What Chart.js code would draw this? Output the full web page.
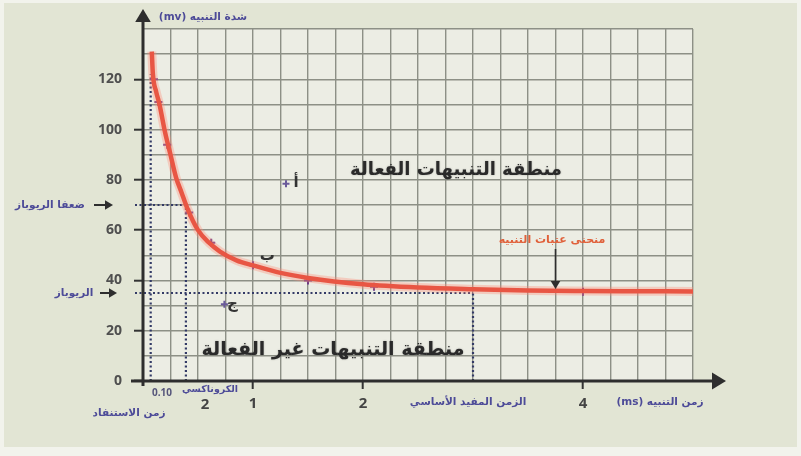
<!DOCTYPE html>
<html>
<head>
<meta charset="utf-8">
<script src="https://cdn.jsdelivr.net/npm/chart.js@4.4.0/dist/chart.umd.min.js"></script>
<style>
  html, body { margin: 0; padding: 0; background: #f2f3ec; }
  .wrap { position: relative; width: 801px; height: 456px; }
</style>
</head>
<body>
<div class="wrap"><canvas id="sd"></canvas></div>
<script>
// strength-duration curve, values
const curveTime = [0.08, 0.09, 0.12, 0.15, 0.2, 0.25, 0.3, 0.35, 0.4, 0.5, 0.6, 0.7, 0.85, 1.0, 1.25, 1.5, 2.0, 2.5, 3.0, 3.5, 4.0, 4.5, 5.0];
const curveIntensity = [131, 122, 115, 110, 99, 90, 81, 75, 69, 60, 55, 51.5, 48, 46, 43, 41, 38.5, 37.2, 36.5, 36, 35.8, 35.7, 35.6];

const measuredTime = [0.1, 0.14, 0.22, 0.42, 0.62, 1.0, 1.5, 2.1, 4.0];
const measuredIntensity = [120, 111, 94, 67, 55, 46, 40, 37.5, 35.5];

const extraTime = [1.3, 0.74];
const extraIntensity = [78.5, 30.5];

const xLabels = { 1: '1', 2: '2', 4: '4' };
const yLabelStep = 20;

const rheobase = 35;
const chronaxie = 0.39;
const utilTime = 3.0;

const AR = '"DejaVu Sans", sans-serif';
const NUM = '"Open Sans", "DejaVu Sans", sans-serif';
const PURPLE = '#4d4b98';
const DOT = '#333a66';

function pts(xs, ys) { return xs.map((x, i) => ({ x: x, y: ys[i] })); }

function txt(ctx, s, x, y, font, color, rtl) {
	ctx.save();
	ctx.font = font;
	ctx.fillStyle = color;
	ctx.textAlign = 'center';
	ctx.textBaseline = 'middle';
	ctx.direction = rtl ? 'rtl' : 'ltr';
	ctx.fillText(s, x, y);
	ctx.restore();
}

function arrowHead(ctx, x, y, dir, size) {
	// dir: 'up' | 'right' | 'down'
	ctx.beginPath();
	if (dir === 'up') { ctx.moveTo(x, y); ctx.lineTo(x - size * 0.6, y + size); ctx.lineTo(x + size * 0.6, y + size); }
	if (dir === 'right') { ctx.moveTo(x, y); ctx.lineTo(x - size, y - size * 0.6); ctx.lineTo(x - size, y + size * 0.6); }
	if (dir === 'down') { ctx.moveTo(x, y); ctx.lineTo(x - size * 0.6, y - size); ctx.lineTo(x + size * 0.6, y - size); }
	ctx.closePath();
	ctx.fill();
}

const backdrop = {
	id: 'backdrop',
	beforeDraw(chart) {
		const { ctx, chartArea: a } = chart;
		ctx.save();
		ctx.fillStyle = '#e2e5d4';
		ctx.fillRect(4, 3, 793, 444);
		ctx.fillStyle = '#ecede4';
		ctx.fillRect(a.left, a.top, a.right - a.left, a.bottom - a.top);
		ctx.restore();
	},
	beforeDatasetsDraw(chart) {
		const { ctx } = chart;
		const xs = chart.scales.x, ys = chart.scales.y;
		const X = v => xs.getPixelForValue(v), Y = v => ys.getPixelForValue(v);
		ctx.save();
		ctx.strokeStyle = DOT;
		ctx.lineWidth = 2.2;
		ctx.setLineDash([2, 2.5]);
		const seg = (x1, y1, x2, y2) => { ctx.beginPath(); ctx.moveTo(x1, y1); ctx.lineTo(x2, y2); ctx.stroke(); };
		seg(X(0.07), Y(0), X(0.07), Y(122));
		seg(X(chronaxie), Y(0), X(chronaxie), Y(2 * rheobase));
		seg(X(0) - 8, Y(2 * rheobase), X(chronaxie), Y(2 * rheobase));
		seg(X(0) - 8, Y(rheobase), X(utilTime), Y(rheobase));
		seg(X(utilTime), Y(0), X(utilTime), Y(rheobase));
		ctx.restore();
	},
	afterDraw(chart) {
		const { ctx, chartArea: a } = chart;
		const xs = chart.scales.x, ys = chart.scales.y;
		const X = v => xs.getPixelForValue(v), Y = v => ys.getPixelForValue(v);
		ctx.save();
		// axes with arrows
		ctx.strokeStyle = '#2e2e2e';
		ctx.fillStyle = '#2e2e2e';
		ctx.lineWidth = 3;
		ctx.beginPath(); ctx.moveTo(X(0), a.bottom + 5); ctx.lineTo(X(0), 20); ctx.stroke();
		arrowHead(ctx, X(0), 9, 'up', 13);
		ctx.beginPath(); ctx.moveTo(a.left - 12, Y(0)); ctx.lineTo(714, Y(0)); ctx.stroke();
		arrowHead(ctx, 726, Y(0), 'right', 14);

		// side arrows for rheobase marks
		ctx.lineWidth = 2;
		ctx.beginPath(); ctx.moveTo(94, Y(2 * rheobase)); ctx.lineTo(106, Y(2 * rheobase)); ctx.stroke();
		arrowHead(ctx, 113, Y(2 * rheobase), 'right', 8);
		ctx.beginPath(); ctx.moveTo(100, Y(rheobase)); ctx.lineTo(110, Y(rheobase)); ctx.stroke();
		arrowHead(ctx, 117, Y(rheobase), 'right', 8);

		// arrow pointing at the curve
		ctx.lineWidth = 1.6;
		ctx.beginPath(); ctx.moveTo(X(3.75), 249); ctx.lineTo(X(3.75), Y(38.5)); ctx.stroke();
		arrowHead(ctx, X(3.75), Y(36.6), 'down', 8);
		ctx.restore();

		// texts
		const b11 = 'bold 10.5px ' + AR;
		txt(ctx, 'شدة التنبيه (mv)', 203, 17, b11, PURPLE, true);
		txt(ctx, 'زمن التنبيه (ms)', 660, 402, b11, PURPLE, true);
		txt(ctx, 'ضعفا الريوباز', 50, Y(2 * rheobase), b11, PURPLE, true);
		txt(ctx, 'الريوباز', 74, Y(rheobase), b11, PURPLE, true);
		txt(ctx, 'الزمن المفيد الأساسي', 468, 402, b11, PURPLE, true);
		txt(ctx, 'الكروناكسي', 210, 390, 'bold 9.5px ' + AR, PURPLE, true);
		txt(ctx, '0.10', 162, 393, 'bold 10px ' + NUM, '#55557a', false);
		txt(ctx, 'زمن الاستنفاد', 129, 413, b11, PURPLE, true);
		txt(ctx, '2', 205, 405, 'bold 15px ' + NUM, '#444', false);

		ctx.save();
		ctx.shadowColor = 'rgba(0,0,0,0.25)';
		ctx.shadowBlur = 2;
		txt(ctx, 'منطقة التنبيهات الفعالة', 456, 170, 'bold 18px ' + AR, '#2a2a2a', true);
		txt(ctx, 'منطقة التنبيهات غير الفعالة', 333, 350, 'bold 19px ' + AR, '#2a2a2a', true);
		ctx.restore();
		txt(ctx, 'منحنى عتبات التنبيه', 552, 240, 'bold 11px ' + AR, '#e0603a', true);

		txt(ctx, 'أ', X(extraTime[0]) + 10, Y(extraIntensity[0]) - 1, 'bold 15px ' + AR, '#333', true);
		txt(ctx, 'ب', X(1.13), Y(49.5), 'bold 15px ' + AR, '#333', true);
		txt(ctx, 'ج', X(extraTime[1]) + 8, Y(extraIntensity[1]), 'bold 15px ' + AR, '#333', true);
	}
};

new Chart(document.getElementById('sd'), {
	type: 'scatter',
	data: {
		datasets: [
			{
				type: 'line',
				data: pts(curveTime, curveIntensity),
				borderColor: 'rgba(255,140,120,0.35)',
				borderWidth: 9,
				pointRadius: 0,
				cubicInterpolationMode: 'monotone',
				fill: false
			},
			{
				type: 'line',
				data: pts(curveTime, curveIntensity),
				borderColor: '#dc3a28',
				borderWidth: 4.5,
				pointRadius: 0,
				cubicInterpolationMode: 'monotone',
				fill: false
			},
			{
				data: pts(measuredTime, measuredIntensity),
				pointStyle: 'cross',
				pointRadius: 4,
				borderColor: '#6a3a86',
				borderWidth: 2
			},
			{
				data: pts(extraTime, extraIntensity),
				pointStyle: 'cross',
				pointRadius: 3.5,
				borderColor: '#6a5a9a',
				borderWidth: 2
			}
		]
	},
	options: {
		responsive: true,
		maintainAspectRatio: false,
		animation: false,
		layout: { padding: { left: 0, top: 29, right: 108, bottom: 0 } },
		plugins: { legend: { display: false }, tooltip: { enabled: false } },
		scales: {
			x: {
				type: 'linear',
				min: 0, max: 5,
				afterFit(scale) { scale.height = 75; },
				border: { display: false },
				grid: {
					color: '#8d9086',
					lineWidth: 1.4,
					drawTicks: true,
					tickLength: 8,
					tickWidth: 2,
					tickColor: c => (c.tick && xLabels[c.tick.value]) ? '#333' : 'rgba(0,0,0,0)'
				},
				ticks: {
					stepSize: 0.25,
					autoSkip: false,
					maxRotation: 0,
					padding: 6,
					color: '#444',
					font: { family: NUM, size: 15, weight: 'bold' },
					callback: v => xLabels[v] || ''
				}
			},
			y: {
				min: 0, max: 140,
				afterFit(scale) { scale.width = 143; },
				border: { display: false },
				grid: {
					color: '#8d9086',
					lineWidth: 1.4,
					drawTicks: true,
					tickLength: 9,
					tickWidth: 2,
					tickColor: c => (c.tick && c.tick.value % yLabelStep === 0 && c.tick.value <= 120) ? '#333' : 'rgba(0,0,0,0)'
				},
				ticks: {
					stepSize: 10,
					autoSkip: false,
					padding: 12,
					color: '#4f4f4f',
					font: { family: NUM, size: 14, weight: 'bold' },
					callback: v => (v % yLabelStep === 0 && v <= 120) ? String(v) : ''
				}
			}
		}
	},
	plugins: [backdrop]
});
</script>
</body>
</html>
